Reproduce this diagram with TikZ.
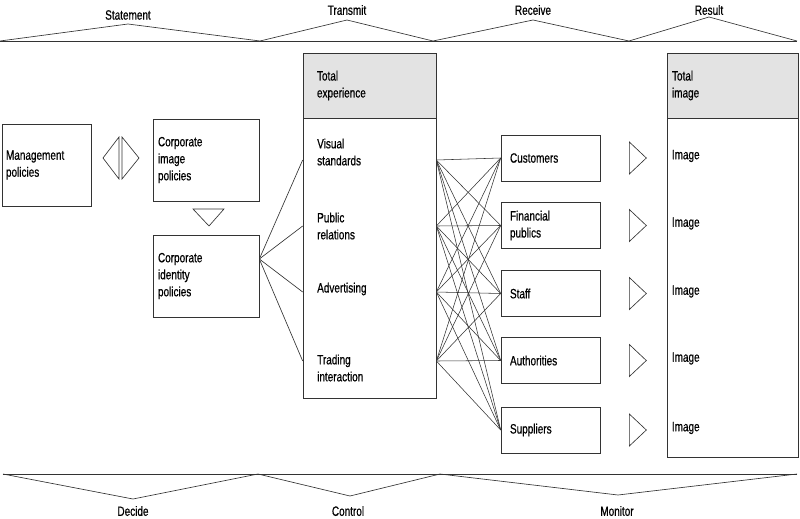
\documentclass[tikz,border=0pt]{standalone}
\usepackage{fontspec}
\setmainfont{Liberation Sans}[FakeStretch=0.74,FakeBold=0.6]
\usetikzlibrary{positioning}
\tikzset{ln/.style={draw=black!80,line width=0.65pt},
  pbox/.style={ln,align=left,inner ysep=0pt,minimum height=#1},
  hdr/.style={ln,fill=black!11,align=left,inner ysep=0pt,minimum height=65pt},
  item/.style={anchor=west,align=left,inner sep=0pt},
  tri/.style={ln,line join=miter}}

\begin{document}
\begin{tikzpicture}[x=1pt,y=-1pt,font=\fontsize{13.5}{17}\selectfont]
\useasboundingbox (0,0) rectangle (800,519);
% phases, top and bottom
\draw[ln] (0,41) -- (797,41);
\draw[ln] (0,41) -- (128,24) -- (260,41) -- (347,20) -- (433,41) -- (533,20) -- (629,41) -- (709,17) -- (797,41);
\node (stm) at (128,15) {Statement};
\node (trm) at (347,10) {Transmit};
\node (rcv) at (533,10) {Receive};
\node (rsl) at (709,10) {Result};
\draw[ln] (3,474) -- (797,474);
\draw[ln] (3,474) -- (133,499) -- (258,474) -- (350,496) -- (440,474) -- (618,495) -- (797,474);
\node (dec) at (133,511) {Decide};
\node (ctl) at (348,511) {Control};
\node (mon) at (617,511) {Monitor};
% policies
\node[pbox=82pt,text width=81pt,inner xsep=4pt] (mgmt) at (46.5,165) {Management\\policies};
\node[pbox=82pt,text width=96pt,inner xsep=5pt] (cip) at (206,160) {Corporate\\image\\policies};
\node[pbox=82pt,text width=96pt,inner xsep=5pt] (cid) at (206,276) {Corporate\\identity\\policies};
\draw[tri] (119,137) -- (103,158) -- (119,179) -- cycle;
\draw[tri] (122,137) -- (139,158) -- (122,179) -- cycle;
\draw[tri] (193,209) -- (224,209) -- (209,226) -- cycle;
% total experience
\node[hdr,text width=105pt,inner xsep=14pt] (exph) at (369.5,85.5) {Total\\experience};
\node[ln,minimum width=133pt,minimum height=280pt,inner sep=0pt] (expb) at (369.5,258) {};
\node[item] (vs) at (317,152) {Visual\\standards};
\node[item] (pr) at (317,226) {Public\\relations};
\node[item] (ad) at (317,289) {Advertising};
\node[item] (ti) at (317,368) {Trading\\interaction};
\foreach \n/\y in {vs/160,pr/226,ad/292,ti/361}
  \coordinate (p\n) at (0,\y);
\foreach \n in {vs,pr,ad,ti}
  \draw[ln] ([yshift=17pt]cid.east) -- (expb.west |- p\n);
% publics
\foreach \n/\t/\y in {cu/Customers/158,fp/{Financial\\publics}/225.5,st/Staff/293.5,au/Authorities/360.5,su/Suppliers/430}
  \node[pbox=46pt,text width=81pt,inner xsep=9pt] (\n) at (550.5,\y) {\t};
\foreach \s in {vs,pr,ad,ti}
  \foreach \t in {cu,fp,st,au,su}
    \draw[ln,line width=0.55pt] (expb.east |- p\s) -- (\t.west);
% total image
\node[hdr,text width=121pt,inner xsep=5pt] (imh) at (732.5,85.5) {Total\\image};
\node[ln,minimum width=131pt,minimum height=339pt,inner sep=0pt] (imb) at (732.5,287.5) {};
\foreach \t in {cu,fp,st,au,su}{
  \draw[tri] ([xshift=29pt,yshift=16pt]\t.east) -- ++(17,16) -- ++(-17,16) -- cycle;
  \node[item] (im\t) at ([xshift=5pt,yshift=2pt]imb.west |- \t) {Image};
}
\end{tikzpicture}
\end{document}
